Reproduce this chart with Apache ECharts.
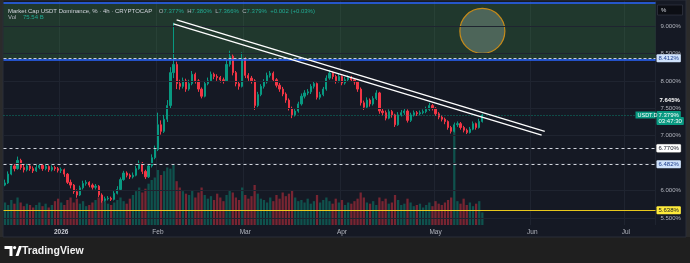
<!DOCTYPE html>
<html><head><meta charset="utf-8">
<script src="https://cdn.jsdelivr.net/npm/echarts@6/dist/echarts.min.js"></script>
<style>html,body{margin:0;padding:0;background:#1f1f1f;}#c{width:690px;height:263px;}</style>
</head><body><div id="c"></div>
<script>
// ---------- data (daily) ----------
const startDate = '2025-12-14';
const dayCount = 209; // axis runs to 2026-07-10
const opens = [
6.10,6.14,6.30,6.45,6.40,6.55,6.42,6.38,6.45,6.40,
6.36,6.42,6.46,6.40,6.44,6.38,6.42,6.40,6.37,6.38,
6.30,6.15,6.10,5.98,5.92,6.05,6.13,6.15,6.10,6.06,
6.08,5.92,5.82,5.85,5.86,5.84,5.95,6.02,6.20,6.32,
6.28,6.25,6.28,6.40,6.50,6.35,6.25,6.45,6.60,6.75,
7.20,7.08,7.30,7.55,8.15,8.30,7.95,7.90,8.00,7.85,
7.95,8.12,8.00,7.85,7.72,7.95,8.00,8.12,8.08,8.06,
8.02,8.00,8.30,8.45,8.15,7.95,7.90,8.40,8.10,8.05,
8.00,7.55,7.75,7.90,7.98,8.10,8.14,8.02,7.92,7.85,
7.76,7.65,7.50,7.38,7.45,7.58,7.72,7.78,7.80,7.90,
7.95,7.70,7.75,7.85,8.05,8.14,8.08,8.00,8.08,7.96,
8.02,8.06,8.02,7.98,7.85,7.60,7.52,7.65,7.58,7.68,
7.78,7.45,7.42,7.32,7.44,7.38,7.20,7.38,7.42,7.45,
7.28,7.38,7.42,7.40,7.42,7.44,7.48,7.55,7.50,7.40,
7.34,7.30,7.26,7.15,7.08,7.20,7.22,7.15,7.10,7.06,
7.12,7.22,7.15,7.26];
const closes = [
6.14,6.30,6.45,6.40,6.55,6.42,6.38,6.45,6.40,6.36,
6.42,6.46,6.40,6.44,6.38,6.42,6.40,6.37,6.38,6.30,
6.15,6.10,5.98,5.92,6.05,6.13,6.15,6.10,6.06,6.08,
5.92,5.82,5.85,5.86,5.84,5.95,6.02,6.20,6.32,6.28,
6.25,6.28,6.40,6.50,6.35,6.25,6.45,6.60,6.75,7.20,
7.08,7.30,7.55,8.15,8.30,7.95,7.90,8.00,7.85,7.95,
8.12,8.00,7.85,7.72,7.95,8.00,8.12,8.08,8.06,8.02,
8.00,8.30,8.45,8.15,7.95,7.90,8.40,8.10,8.05,8.00,
7.55,7.75,7.90,7.98,8.10,8.14,8.02,7.92,7.85,7.76,
7.65,7.50,7.38,7.45,7.58,7.72,7.78,7.80,7.90,7.95,
7.70,7.75,7.85,8.05,8.14,8.08,8.00,8.08,7.96,8.02,
8.06,8.02,7.98,7.85,7.60,7.52,7.65,7.58,7.68,7.78,
7.45,7.42,7.32,7.44,7.38,7.20,7.38,7.42,7.45,7.28,
7.38,7.42,7.40,7.42,7.44,7.48,7.55,7.50,7.40,7.34,
7.30,7.26,7.15,7.08,7.20,7.22,7.15,7.10,7.06,7.12,
7.22,7.15,7.26,7.379];
const highs = [
6.20,6.35,6.50,6.50,6.62,6.58,6.47,6.50,6.48,6.44,
6.47,6.50,6.48,6.48,6.46,6.46,6.45,6.43,6.42,6.40,
6.32,6.20,6.12,6.02,6.09,6.18,6.19,6.17,6.13,6.12,
6.10,5.95,5.89,5.90,5.89,5.99,6.08,6.24,6.36,6.35,
6.31,6.33,6.45,6.55,6.52,6.38,6.50,6.66,6.82,7.42,
7.28,7.38,7.65,8.25,9.06,8.35,8.02,8.06,8.04,8.02,
8.18,8.15,8.03,7.88,8.00,8.06,8.17,8.15,8.12,8.09,
8.06,8.38,8.55,8.48,8.18,7.99,8.52,8.43,8.14,8.09,
8.03,7.80,7.94,8.03,8.15,8.18,8.17,8.05,7.96,7.89,
7.79,7.68,7.53,7.50,7.62,7.77,7.83,7.85,7.94,7.99,
7.97,7.80,7.89,8.10,8.20,8.17,8.11,8.13,8.10,8.07,
8.10,8.09,8.05,8.00,7.88,7.64,7.70,7.68,7.72,7.83,
7.80,7.50,7.46,7.48,7.47,7.40,7.43,7.47,7.50,7.48,
7.42,7.46,7.45,7.46,7.48,7.53,7.60,7.58,7.52,7.43,
7.37,7.33,7.28,7.18,7.24,7.26,7.25,7.18,7.13,7.16,
7.26,7.24,7.31,7.40];
const lows = [
6.08,6.12,6.28,6.35,6.38,6.38,6.33,6.35,6.36,6.32,
6.34,6.39,6.36,6.37,6.34,6.35,6.36,6.33,6.32,6.25,
6.12,6.04,5.94,5.87,5.90,6.02,6.09,6.06,6.02,6.02,
5.88,5.78,5.80,5.82,5.81,5.82,5.93,6.00,6.18,6.24,
6.21,6.22,6.26,6.38,6.30,6.21,6.23,6.42,6.57,6.72,
7.02,7.05,7.25,7.50,8.05,7.85,7.84,7.86,7.80,7.82,
7.92,7.95,7.80,7.68,7.70,7.92,7.98,8.03,8.00,7.97,
7.95,7.98,8.26,8.10,7.90,7.84,7.88,8.05,8.00,7.95,
7.47,7.52,7.72,7.86,7.95,8.06,7.98,7.88,7.80,7.72,
7.60,7.46,7.32,7.35,7.42,7.55,7.68,7.74,7.76,7.86,
7.66,7.66,7.72,7.82,8.02,8.03,7.95,7.97,7.92,7.93,
7.99,7.98,7.93,7.80,7.55,7.47,7.50,7.53,7.55,7.65,
7.40,7.37,7.28,7.30,7.33,7.16,7.18,7.35,7.38,7.24,
7.25,7.35,7.36,7.37,7.39,7.41,7.45,7.46,7.36,7.30,
7.26,7.21,7.11,7.04,7.06,7.16,7.11,7.06,7.03,7.04,
7.10,7.11,7.13,7.24];
const volumes = [ // billions
135,120,150,128,165,135,113,128,120,105,
120,135,113,128,105,120,143,158,135,120,
150,165,135,158,128,143,113,120,135,150,
165,180,143,128,120,135,150,165,143,128,
158,180,203,225,195,218,248,270,285,330,
300,323,345,338,360,263,225,203,188,180,
210,165,195,225,180,158,173,150,188,165,
143,180,210,195,165,150,225,180,158,173,
240,188,158,150,135,165,143,180,158,195,
173,188,210,165,143,150,135,158,128,143,
180,135,150,165,143,128,158,135,150,120,
135,128,143,158,195,165,135,128,143,120,
165,143,158,128,135,180,150,120,128,158,
135,113,120,128,105,120,135,113,143,128,
120,135,150,165,585,143,128,158,120,135,
113,128,143,75.54];
const tickDates = ['2026-01-01','2026-02-01','2026-03-01','2026-04-01','2026-05-01','2026-06-01','2026-07-01'];
const tickLabels = ['2026','Feb','Mar','Apr','May','Jun','Jul'];
const priceTicks = [5.5,6.0,6.5,7.0,7.5,8.0,8.5,9.0];
const zoneTop = 9.432, zoneBottom = 8.375;
const levelBlue = 8.412, level6770 = 6.770, level6482 = 6.482, levelYellow = 5.638;
const lastPrice = 7.379, highMark = 7.645, countdown = '03:47:30';
const trendUpper = [['2026-02-07', 9.11], ['2026-06-05', 7.08]];
const trendLower = [['2026-02-06', 9.04], ['2026-06-04', 7.01]];
const circleMark = [['2026-05-16', 8.91]];

// ---------- build ----------
const FONT = 'Liberation Sans, Arial, sans-serif';
const dates = [];
{
  const d0 = new Date(startDate + 'T00:00:00Z');
  for (let i = 0; i < dayCount; i++) {
    const d = new Date(d0.getTime() + i * 86400000);
    dates.push(d.toISOString().slice(0, 10));
  }
}
const candleData = closes.map((c, i) => [opens[i], c, lows[i], highs[i]]);
const UP = '#089981', DN = '#f23645';
const volData = volumes.map((v, i) => ({
  value: v,
  itemStyle: { color: closes[i] >= opens[i] ? 'rgba(8,153,129,0.45)' : 'rgba(242,54,69,0.45)' }
}));
const isTick = (idx, val) => tickDates.indexOf(val) >= 0;
const CLEAR = 'rgba(0,0,0,0)';

function badge(text, bg, fg, extra) {
  return Object.assign({
    show: true, position: 'end', distance: 1, formatter: text,
    backgroundColor: bg, color: fg, fontSize: 6, fontFamily: FONT,
    padding: [1, 2, 1, 2], borderRadius: 1
  }, extra || {});
}
const noLabel = { show: false };

const chart = echarts.init(document.getElementById('c'), null, { renderer: 'canvas' });
chart.setOption({
  animation: false,
  backgroundColor: '#1f1f1f',
  grid: [
    { left: 3.5, right: 34.5, top: 0, bottom: 38 },
    { left: 3.5, right: 34.5, top: 125, bottom: 38 }
  ],
  xAxis: [
    { type: 'category', data: dates, gridIndex: 0, boundaryGap: true,
      axisLine: { show: false }, axisTick: { show: false }, axisLabel: { show: false },
      splitLine: { show: true, interval: isTick, lineStyle: { color: '#1f2430', width: 1 } } },
    { type: 'category', data: dates, gridIndex: 1, boundaryGap: true,
      axisLine: { show: false }, axisTick: { show: false },
      axisLabel: { show: true, interval: isTick, color: '#b2b5be', fontSize: 6.5, fontFamily: FONT, margin: 4,
        formatter: v => { const k = tickDates.indexOf(v); return k === 0 ? '{y|' + tickLabels[k] + '}' : tickLabels[k]; },
        rich: { y: { fontWeight: 'bold', color: '#c8cad2', fontSize: 6.5, fontFamily: FONT } } },
      splitLine: { show: false } }
  ],
  yAxis: [
    { type: 'value', gridIndex: 0, position: 'right', min: 5.3726, max: 9.474, scale: true,
      axisLine: { show: false }, axisTick: { show: false }, splitLine: { show: false },
      axisLabel: { show: true, customValues: priceTicks, color: '#b2b5be', fontSize: 6, fontFamily: FONT, margin: 5,
        formatter: v => v.toFixed(3) + '%' } },
    { type: 'value', gridIndex: 1, min: 0, max: 600, show: false }
  ],
  series: [
    { type: 'line', name: 'bg', xAxisIndex: 0, yAxisIndex: 0, data: [], z: 1, silent: true,
      markArea: { silent: true, itemStyle: { color: 'rgba(76,175,80,0.21)' },
        data: [[{ yAxis: zoneBottom }, { yAxis: zoneTop }]] },
      markLine: { silent: true, symbol: ['none', 'none'], label: noLabel,
        data: priceTicks.map(v => ({ yAxis: v, lineStyle: { color: '#1f2430', width: 1, type: 'solid' } })) } },
    { type: 'bar', name: 'vol', xAxisIndex: 1, yAxisIndex: 1, data: volData, barWidth: '72%', z: 2, silent: true },
    { type: 'candlestick', name: 'USDT.D', xAxisIndex: 0, yAxisIndex: 0, data: candleData, barWidth: '55%', z: 3,
      itemStyle: { color: UP, color0: DN, borderColor: UP, borderColor0: DN, borderWidth: 1 },
      markLine: { silent: true, symbol: ['none', 'none'], label: noLabel,
        data: [
          { yAxis: zoneTop, lineStyle: { color: '#2962ff', width: 1.6, type: 'solid' } },
          { yAxis: zoneBottom, lineStyle: { color: '#2962ff', width: 1.6, type: 'solid' } },
          { yAxis: levelBlue, lineStyle: { color: '#c9ccd4', width: 1, type: [3, 2] },
            label: badge(levelBlue.toFixed(3) + '%', '#cfe2fb', '#1c3d8c') },
          { yAxis: level6770, lineStyle: { color: '#d1d4dc', width: 1, type: [3, 3] },
            label: badge(level6770.toFixed(3) + '%', '#ffffff', '#131722', { borderColor: '#555', borderWidth: 0.5 }) },
          { yAxis: level6482, lineStyle: { color: '#d1d4dc', width: 1, type: [3, 3] },
            label: badge(level6482.toFixed(3) + '%', '#cfe2fb', '#1c3d8c') },
          { yAxis: levelYellow, lineStyle: { color: '#e9c81c', width: 1.2, type: 'solid' },
            label: badge(levelYellow.toFixed(3) + '%', '#ffeb3b', '#131722') },
          { yAxis: lastPrice - 0.112, lineStyle: { color: CLEAR, width: 0.01 },
            label: badge(countdown, UP, '#ffffff', { padding: [1, 2, 1, 2] }) },
          { yAxis: lastPrice, lineStyle: { color: 'rgba(8,153,129,0.8)', width: 1, type: [1, 2] },
            label: badge(lastPrice.toFixed(3) + '%', UP, '#ffffff') },
          { yAxis: highMark, lineStyle: { color: CLEAR, width: 0.01 },
            label: { show: true, position: 'end', distance: 4, formatter: highMark.toFixed(3) + '%',
              color: '#ffffff', fontWeight: 'bold', fontSize: 6, fontFamily: FONT } },
          [ { coord: trendUpper[0], lineStyle: { color: '#ffffff', width: 1.3, type: 'solid' } }, { coord: trendUpper[1] } ],
          [ { coord: trendLower[0], lineStyle: { color: '#ffffff', width: 1.3, type: 'solid' } }, { coord: trendLower[1] } ]
        ] } },
    { type: 'scatter', name: 'circle', xAxisIndex: 0, yAxisIndex: 0, data: circleMark, symbolSize: 45, z: 4, silent: true,
      itemStyle: { color: 'rgba(175,195,185,0.32)', borderColor: '#c58b1b', borderWidth: 1.2, opacity: 1 } }
  ],
  graphic: [
    { type: 'rect', z: -10, shape: { x: 3, y: 0, width: 683, height: 237 }, style: { fill: '#151924', stroke: '#2a2e39', lineWidth: 1 } },
    { type: 'rect', z: -11, shape: { x: 0, y: 0, width: 3, height: 237 }, style: { fill: '#2b2b2b' } },
    { type: 'rect', z: -11, shape: { x: 686, y: 0, width: 4, height: 237 }, style: { fill: '#2b2b2b' } },
    { type: 'text', z: 100, left: 8, top: 5.5, style: {
        text: '{t|Market Cap USDT Dominance, % · 4h · CRYPTOCAP}  {k|O}{v|7.377%} {k|H}{v|7.380%} {k|L}{v|7.366%} {k|C}{v|7.379%} {v|+0.002 (+0.03%)}',
        rich: { t: { fill: '#d1d4dc', fontSize: 6, fontFamily: FONT }, k: { fill: '#b2b5be', fontSize: 6, fontFamily: FONT }, v: { fill: '#22ab94', fontSize: 6, fontFamily: FONT } } } },
    { type: 'text', z: 100, left: 8, top: 11.5, style: {
        text: '{k|Vol}  {v|75.54 B}',
        rich: { k: { fill: '#b2b5be', fontSize: 6, fontFamily: FONT }, v: { fill: '#22ab94', fontSize: 6, fontFamily: FONT } } } },
    { type: 'rect', z: 100, shape: { x: 657.5, y: 5, width: 25, height: 10 }, style: { fill: '#0c0e14', stroke: '#3a3e4a', lineWidth: 0.6 } },
    { type: 'text', z: 101, left: 661, top: 7, style: { text: '%', fill: '#d1d4dc', fontSize: 6, fontFamily: FONT } },
    { type: 'rect', z: 100, shape: { x: 635.5, y: 111.5, width: 20, height: 7 }, style: { fill: UP } },
    { type: 'text', z: 101, left: 637.5, top: 112.3, style: { text: 'USDT.D', fill: '#ffffff', fontSize: 5.5, fontFamily: FONT } },
    // footer logo + brand
    { type: 'polygon', z: 100, shape: { points: [[4.5, 246], [12.5, 246], [12.5, 256], [9.5, 256], [9.5, 249], [4.5, 249]] }, style: { fill: '#ffffff' } },
    { type: 'circle', z: 100, shape: { cx: 14.6, cy: 247.6, r: 1.6 }, style: { fill: '#ffffff' } },
    { type: 'polygon', z: 100, shape: { points: [[15.5, 256], [18.5, 256], [22, 246], [19, 246]] }, style: { fill: '#ffffff' } },
    { type: 'text', z: 100, left: 22, top: 245.5, style: { text: 'TradingView', fill: '#f0f0f0', fontSize: 10.5, fontWeight: 'bold', fontFamily: FONT } }
  ]
});
</script></body></html>
